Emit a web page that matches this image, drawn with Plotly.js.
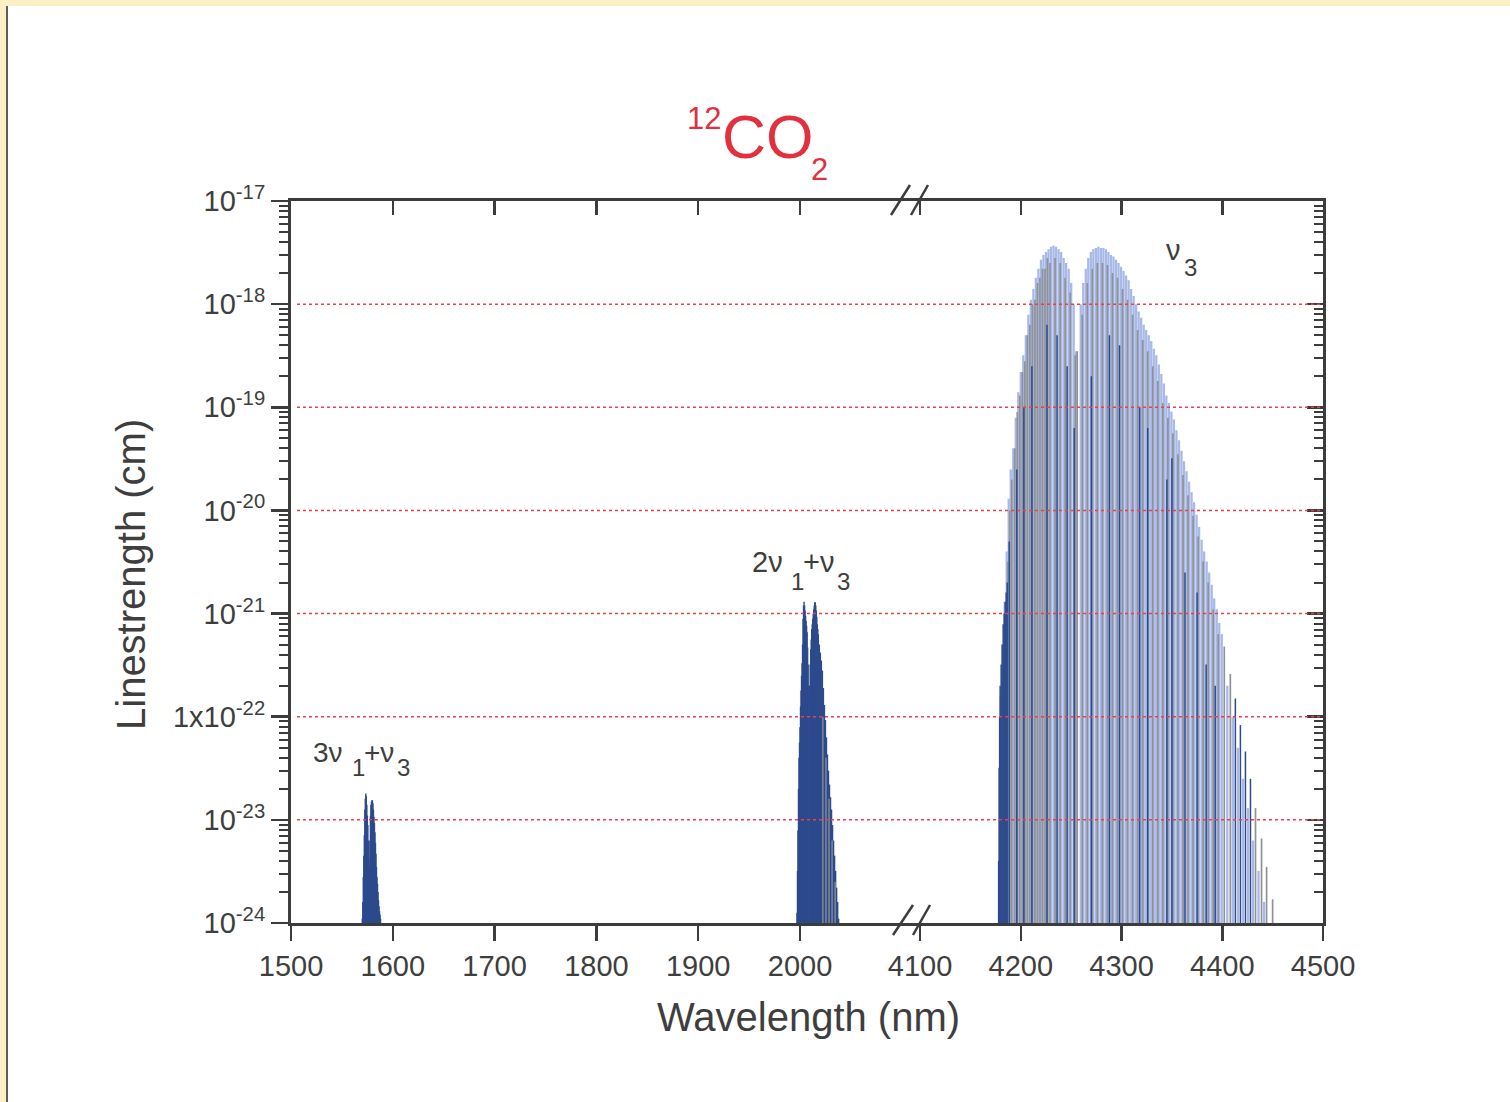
<!DOCTYPE html>
<html>
<head>
<meta charset="utf-8">
<script src="https://cdn.plot.ly/plotly-3.0.1.min.js"></script>
<style>
  html, body { margin: 0; padding: 0; background: #ffffff; }
  #chart { width: 1510px; height: 1102px; }
  .edge { position: absolute; background: #fbefc6; pointer-events: none; }
</style>
</head>
<body>
<div id="chart"></div>
<div class="edge" style="left:0;top:0;width:1510px;height:6px"></div>
<div class="edge" style="left:0;top:0;width:6px;height:1102px"></div>
<div style="position:absolute;left:6px;top:6px;width:2px;height:1096px;background:#5c5c5c"></div>
<script>
// Linestrengths of 12CO2 absorption bands (cm per molecule), wavelengths in nm.

// 3ν1+ν3 combination band near 1.58 µm
const band3v1v3Nm = [1570.0, 1570.5, 1571.0, 1571.5, 1572.0, 1572.5, 1573.0, 1573.5, 1574.0, 1574.5,
  1575.0, 1575.5, 1576.0, 1576.5, 1577.0, 1577.5, 1578.0, 1578.5, 1579.0, 1579.5,
  1580.0, 1580.5, 1581.0, 1581.5, 1582.0, 1582.5, 1583.0, 1583.5, 1584.0, 1584.5,
  1585.0, 1585.5, 1586.0, 1586.5, 1587.0, 1587.5, 1588.0];
const band3v1v3S = [1.1e-24, 1.6e-24, 2.8e-24, 4.5e-24, 7.1e-24, 1.26e-23, 1.6e-23, 1.8e-23, 1.7e-23, 1.4e-23,
  1.1e-23, 8.9e-24, 6.3e-24, 4.2e-24, 3.5e-24, 6.3e-24, 1.1e-23, 1.4e-23, 1.5e-23, 1.55e-23,
  1.55e-23, 1.45e-23, 1.26e-23, 1.07e-23, 9.3e-24, 7.6e-24, 6.0e-24, 4.7e-24, 3.5e-24, 2.8e-24,
  2.4e-24, 2.0e-24, 1.66e-24, 1.45e-24, 1.3e-24, 1.2e-24, 1.1e-24];

// 2ν1+ν3 combination band near 2.0 µm
const band2v1v3Nm = [1997.0, 1997.5, 1998.0, 1998.5, 1999.0, 1999.5, 2000.0, 2000.5, 2001.0, 2001.5,
  2002.0, 2002.5, 2003.0, 2003.5, 2004.0, 2004.5, 2005.0, 2005.5, 2006.0, 2006.5,
  2007.0, 2007.5, 2008.0, 2008.5, 2009.0, 2009.5, 2010.0, 2010.5, 2011.0, 2011.5,
  2012.0, 2012.5, 2013.0, 2013.5, 2014.0, 2014.5, 2015.0, 2015.5, 2016.0, 2016.5,
  2017.0, 2017.5, 2018.0, 2019.0, 2020.0, 2021.0, 2022.0, 2023.0, 2024.0, 2025.0,
  2026.0, 2027.0, 2028.0, 2029.0, 2030.0, 2031.0, 2032.0, 2033.0, 2034.0, 2035.0,
  2036.0, 2037.0, 2038.0];
const band2v1v3S = [1.26e-24, 3.2e-24, 7.9e-24, 2.0e-23, 4.0e-23, 5.6e-23, 7.9e-23, 1.26e-22, 1.8e-22, 2.5e-22,
  3.3e-22, 5.0e-22, 8.9e-22, 1.2e-21, 1.3e-21, 1.2e-21, 1.07e-21, 9.5e-22, 8.5e-22, 7.6e-22,
  6.6e-22, 4.7e-22, 3.2e-22, 2.0e-22, 1.35e-22, 2.0e-22, 3.2e-22, 4.5e-22, 5.6e-22, 7.1e-22,
  7.9e-22, 8.9e-22, 1.0e-21, 1.1e-21, 1.2e-21, 1.29e-21, 1.29e-21, 1.2e-21, 1.07e-21, 9.3e-22,
  7.9e-22, 7.1e-22, 6.3e-22, 5.0e-22, 4.2e-22, 3.5e-22, 2.8e-22, 1.9e-22, 1.3e-22, 9.3e-23,
  6.3e-23, 4.3e-23, 3.0e-23, 2.2e-23, 1.66e-23, 1.26e-23, 8.9e-24, 6.3e-24, 4.5e-24, 3.2e-24,
  2.2e-24, 1.6e-24, 1.1e-24];
// weaker hot-band lines inside the 2 µm band
const band2v1v3HotNm = [2022.5, 2025.5, 2028.5, 2031.5, 2034.5];
const band2v1v3HotS = [1.0e-22, 4.0e-23, 1.6e-23, 6.3e-24, 2.5e-24];

// ν3 fundamental near 4.3 µm: strongest lines
const nu3MainNm = [4180.0, 4182.0, 4184.0, 4186.0, 4188.0, 4190.0, 4192.5, 4195.0, 4197.5, 4200.0,
  4202.5, 4205.0, 4207.5, 4210.0, 4212.5, 4215.0, 4217.5, 4220.0, 4222.5, 4225.0,
  4227.5, 4230.0, 4232.5, 4235.0, 4237.5, 4240.0, 4242.5, 4245.0, 4247.5, 4250.0,
  4252.5, 4255.0,
  4259.5, 4262.0, 4264.5, 4267.0, 4269.5, 4272.0, 4274.5, 4277.0, 4279.5, 4282.0,
  4284.5, 4287.0, 4289.5, 4292.0, 4294.5, 4297.0, 4299.5, 4302.0, 4304.5, 4307.0,
  4309.5, 4312.0, 4314.5, 4317.0, 4319.5, 4322.0, 4324.5, 4327.0, 4329.5, 4332.0,
  4334.5, 4337.0, 4339.5, 4342.0, 4344.5, 4347.0, 4349.5, 4352.0, 4354.5, 4357.0,
  4359.5, 4362.0, 4364.5, 4367.0, 4369.5, 4372.0, 4374.5, 4377.0, 4379.5, 4382.0,
  4384.5, 4387.0, 4389.5, 4392.0, 4394.5, 4397.0, 4399.5,
  4405.0, 4410.5, 4415.5, 4420.5, 4425.5, 4430.5, 4436.0, 4441.5];
const nu3MainS = [1.6e-22, 5.0e-22, 1.3e-21, 4.0e-21, 1.3e-20, 2.5e-20, 4.0e-20, 7.9e-20, 1.4e-19, 2.2e-19,
  3.2e-19, 5.0e-19, 7.9e-19, 1.1e-18, 1.4e-18, 1.8e-18, 2.2e-18, 2.7e-18, 3.0e-18, 3.2e-18,
  3.4e-18, 3.6e-18, 3.7e-18, 3.6e-18, 3.4e-18, 3.2e-18, 2.8e-18, 2.5e-18, 2.2e-18, 1.6e-18,
  1.0e-18, 3.5e-19,
  1.0e-18, 1.6e-18, 2.2e-18, 2.8e-18, 3.2e-18, 3.4e-18, 3.5e-18, 3.6e-18, 3.5e-18, 3.5e-18,
  3.4e-18, 3.2e-18, 3.0e-18, 2.9e-18, 2.7e-18, 2.5e-18, 2.3e-18, 2.1e-18, 1.9e-18, 1.7e-18,
  1.4e-18, 1.2e-18, 1.0e-18, 8.5e-19, 7.4e-19, 6.3e-19, 5.6e-19, 5.0e-19, 4.4e-19, 3.7e-19,
  3.2e-19, 2.6e-19, 2.1e-19, 1.7e-19, 1.3e-19, 1.1e-19, 9.1e-20, 7.6e-20, 6.0e-20, 4.8e-20,
  3.8e-20, 3.0e-20, 2.4e-20, 1.9e-20, 1.5e-20, 1.2e-20, 9.1e-21, 6.9e-21, 5.2e-21, 4.0e-21,
  3.2e-21, 2.5e-21, 1.9e-21, 1.4e-21, 1.1e-21, 8.1e-22, 6.3e-22,
  2.0e-22, 1.0e-22, 5.0e-23, 2.5e-23, 1.3e-23, 6.3e-24, 3.2e-24, 1.6e-24];

// ν3 region: hot-band lines
const nu3GrayNm = [4181, 4183, 4185, 4187, 4189, 4191, 4194, 4196.5, 4199, 4201.5,
  4204, 4206.5, 4209, 4211.5, 4214, 4216.5, 4219, 4221.5, 4224, 4226.5,
  4229, 4234, 4239, 4244, 4249, 4254, 4256,
  4261, 4266, 4271, 4276, 4281, 4286, 4291, 4296, 4301, 4306,
  4311, 4316, 4321, 4326, 4331, 4336, 4341, 4346, 4351, 4356,
  4361, 4366, 4371, 4376, 4381, 4386, 4391, 4396, 4402, 4408,
  4433, 4439, 4444, 4450];
const nu3GrayS = [6.3e-23, 3.2e-22, 1.0e-21, 3.2e-21, 1.0e-20, 2.0e-20, 4.0e-20, 9.0e-20, 1.3e-19, 2.2e-19,
  2.8e-19, 5.0e-19, 6.3e-19, 1.0e-18, 1.1e-18, 1.6e-18, 1.8e-18, 2.2e-18, 2.2e-18, 2.8e-18,
  2.5e-18, 2.8e-18, 2.5e-18, 1.8e-18, 1.3e-18, 3.2e-19, 3.5e-19,
  7.9e-19, 1.6e-18, 2.2e-18, 2.5e-18, 2.5e-18, 2.4e-18, 2.0e-18, 1.8e-18, 1.4e-18, 1.1e-18,
  7.9e-19, 5.6e-19, 4.5e-19, 3.5e-19, 2.5e-19, 1.8e-19, 1.1e-19, 7.9e-20, 5.6e-20, 3.5e-20,
  2.2e-20, 1.4e-20, 8.9e-21, 5.6e-21, 3.2e-21, 2.0e-21, 1.1e-21, 6.3e-22, 4.8e-22, 2.6e-22,
  1.3e-23, 6.6e-24, 3.5e-24, 1.7e-24];

// ν3 region: isotopologue / band-head lines
const nu3NavyNm = [4178.0, 4178.5, 4179.0, 4179.5, 4180.5, 4181.5, 4182.5, 4183.5, 4184.5, 4185.5,
  4186.5, 4188.5, 4196, 4203, 4211, 4226, 4236, 4246, 4253, 4270,
  4288, 4298, 4318, 4326, 4345, 4350, 4363, 4375, 4384, 4393,
  4413, 4418, 4423, 4428];
const nu3NavyS = [4.0e-24, 3.2e-23, 1.0e-22, 2.0e-22, 3.2e-22, 5.0e-22, 7.9e-22, 1.0e-21, 1.3e-21, 1.6e-21,
  2.0e-21, 5.0e-21, 2.5e-20, 1.0e-19, 2.5e-19, 6.3e-19, 5.0e-19, 2.5e-19, 6.3e-20, 2.0e-19,
  5.0e-19, 4.0e-19, 1.0e-19, 6.3e-20, 2.0e-20, 3.2e-20, 2.5e-21, 1.6e-21, 3.2e-22, 2.0e-22,
  1.5e-22, 8.3e-23, 4.6e-23, 2.5e-23];

// axis ticks
const xTicksLeft = [1500, 1600, 1700, 1800, 1900, 2000];
const xTicksRight = [4100, 4200, 4300, 4400, 4500];
const yTickVals = [1e-24, 1e-23, 1e-22, 1e-21, 1e-20, 1e-19, 1e-18, 1e-17];
const yTickText = ['10<sup>-24</sup>', '10<sup>-23</sup>', '1x10<sup>-22</sup>', '10<sup>-21</sup>',
  '10<sup>-20</sup>', '10<sup>-19</sup>', '10<sup>-18</sup>', '10<sup>-17</sup>'];

const FLOOR = 1e-24;
const NAVY = '#2d4a8c', GRAY = '#8f9297', LIGHT = '#a9b9e7';
const AX = '#3c3c3c', TXT = '#3e3e3e', RED = '#e2303f';
const FONT = '"Liberation Sans", Arial, Helvetica, sans-serif';

// frame geometry (pixels)
const L = 291, R = 1323, T = 201, B = 923, W = 1510, H = 1102;
const BREAK = 910;
const split = (BREAK - L) / (R - L);
const leftRange = [1500, 1500 + (BREAK - L) / 1.018];
const rightRange = [4090, 4500];
const px = x => (x - L) / (R - L);
const py = y => (B - y) / (B - T);

// each line is a vertical stick from the bottom of the axis up to its strength
function sticks(nm, s, color, width, xa) {
  const x = [], y = [];
  nm.forEach((w, i) => { x.push(w, w, null); y.push(FLOOR, s[i], null); });
  return { type: 'scatter', mode: 'lines', x, y, xaxis: xa, yaxis: 'y',
    line: { color, width }, hoverinfo: 'skip', showlegend: false, connectgaps: false };
}
// empty traces that register the frame axes (top ticks, right ticks)
const frame = (xa, ya) => ({ type: 'scatter', mode: 'lines', x: [], y: [], xaxis: xa, yaxis: ya,
  hoverinfo: 'skip', showlegend: false });

const traces = [
  sticks(band3v1v3Nm, band3v1v3S, NAVY, 1.4, 'x'),
  sticks(band2v1v3Nm, band2v1v3S, NAVY, 1.4, 'x'),
  sticks(band2v1v3HotNm, band2v1v3HotS, GRAY, 1.3, 'x'),
  sticks(nu3MainNm, nu3MainS, LIGHT, 2.3, 'x2'),
  sticks(nu3GrayNm, nu3GrayS, GRAY, 1.7, 'x2'),
  sticks(nu3NavyNm, nu3NavyS, NAVY, 1.5, 'x2'),
  frame('x3', 'y'), frame('x4', 'y'), frame('x2', 'y2')
];

const minorVals = [];
for (let e = -24; e < -17; e++) for (let k = 2; k <= 9; k++) minorVals.push(k * Math.pow(10, e));

const xBase = {
  anchor: 'y', tickmode: 'array', ticks: 'outside', ticklen: 15, tickwidth: 2.5, tickcolor: AX,
  showline: true, linecolor: AX, linewidth: 3, showgrid: false, zeroline: false,
  tickfont: { size: 29, color: TXT, family: FONT }, fixedrange: true
};
const xTop = {
  anchor: 'y', side: 'top', tickmode: 'array', ticks: 'inside', ticklen: 14, tickwidth: 2.5,
  tickcolor: AX, showline: true, linecolor: AX, linewidth: 3, showgrid: false, zeroline: false,
  showticklabels: false, fixedrange: true
};
const yBase = {
  type: 'log', range: [-24, -17], autorange: false, tickmode: 'array', tickvals: yTickVals, showgrid: false,
  zeroline: false, showline: true, linecolor: AX, linewidth: 3, tickcolor: AX, tickwidth: 2.5,
  fixedrange: true
};

// dotted red reference lines at each decade, drawn over the spectra
const shapes = yTickVals.slice(1, -1).map(v => ({
  type: 'line', xref: 'paper', yref: 'paper', x0: px(297), x1: px(1320),
  y0: (Math.log10(v) + 24) / 7, y1: (Math.log10(v) + 24) / 7,
  line: { color: '#e8404c', width: 1.5, dash: 'dot' }, layer: 'above'
}));
// axis-break marks
[[891, 215, 910, 185], [911, 215, 928, 185], [893, 935, 913, 905], [913, 935, 930, 905]].forEach(s => {
  shapes.push({ type: 'line', xref: 'paper', yref: 'paper', x0: px(s[0]), y0: py(s[1]),
    x1: px(s[2]), y1: py(s[3]), line: { color: AX, width: 2.5 }, layer: 'above' });
});

// text placed by left edge and baseline
function piece(text, left, baseline, size, color) {
  return { xref: 'paper', yref: 'paper', x: px(left), y: py(baseline - 0.35 * size),
    xanchor: 'left', yanchor: 'middle', text, showarrow: false, borderpad: 0,
    font: { size, color: color || TXT, family: FONT } };
}

const annotations = [
  piece('12', 686, 129, 31, RED), piece('CO', 721, 158, 61, RED), piece('2', 810, 180, 31, RED),
  piece('3ν', 312, 762, 28), piece('1', 351, 776, 24), piece('+ν', 363, 762, 28), piece('3', 396, 776, 24),
  piece('2ν', 751, 572, 29), piece('1', 790, 590, 24), piece('+ν', 802, 572, 29), piece('3', 836, 590, 24),
  piece('ν', 1165, 260, 29), piece('3', 1183, 276, 24),
  { xref: 'paper', yref: 'paper', x: px(808), y: py(1017), xanchor: 'center', yanchor: 'middle',
    text: 'Wavelength (nm)', showarrow: false, font: { size: 40, color: TXT, family: FONT } },
  { xref: 'paper', yref: 'paper', x: px(131), y: py(575), xanchor: 'center', yanchor: 'middle',
    textangle: -90, text: 'Linestrength (cm)', showarrow: false, font: { size: 40, color: TXT, family: FONT } }
];

const layout = {
  width: W, height: H,
  margin: { l: L, r: W - R, t: T, b: H - B, pad: 0 },
  paper_bgcolor: '#ffffff', plot_bgcolor: 'rgba(0,0,0,0)',
  font: { family: FONT, color: TXT },
  showlegend: false,
  xaxis: Object.assign({}, xBase, { domain: [0, split], range: leftRange, tickvals: xTicksLeft }),
  xaxis2: Object.assign({}, xBase, { domain: [split, 1], range: rightRange, tickvals: xTicksRight }),
  xaxis3: Object.assign({}, xTop, { overlaying: 'x', range: leftRange, tickvals: xTicksLeft }),
  xaxis4: Object.assign({}, xTop, { overlaying: 'x2', range: rightRange, tickvals: xTicksRight }),
  yaxis: Object.assign({}, yBase, {
    anchor: 'x', side: 'left', ticktext: yTickText, ticks: 'outside', ticklen: 17,
    tickfont: { size: 29, color: TXT, family: FONT },
    minor: { tickmode: 'array', tickvals: minorVals, ticks: 'outside', ticklen: 9, tickwidth: 2, tickcolor: AX, showgrid: false }
  }),
  yaxis2: Object.assign({}, yBase, {
    overlaying: 'y', anchor: 'x2', side: 'right', ticks: 'inside', ticklen: 16, showticklabels: false,
    minor: { tickmode: 'array', tickvals: minorVals, ticks: 'inside', ticklen: 9, tickwidth: 2, tickcolor: AX, showgrid: false }
  }),
  shapes, annotations
};

Plotly.newPlot('chart', traces, layout, { staticPlot: true, displayModeBar: false });
</script>
</body>
</html>
